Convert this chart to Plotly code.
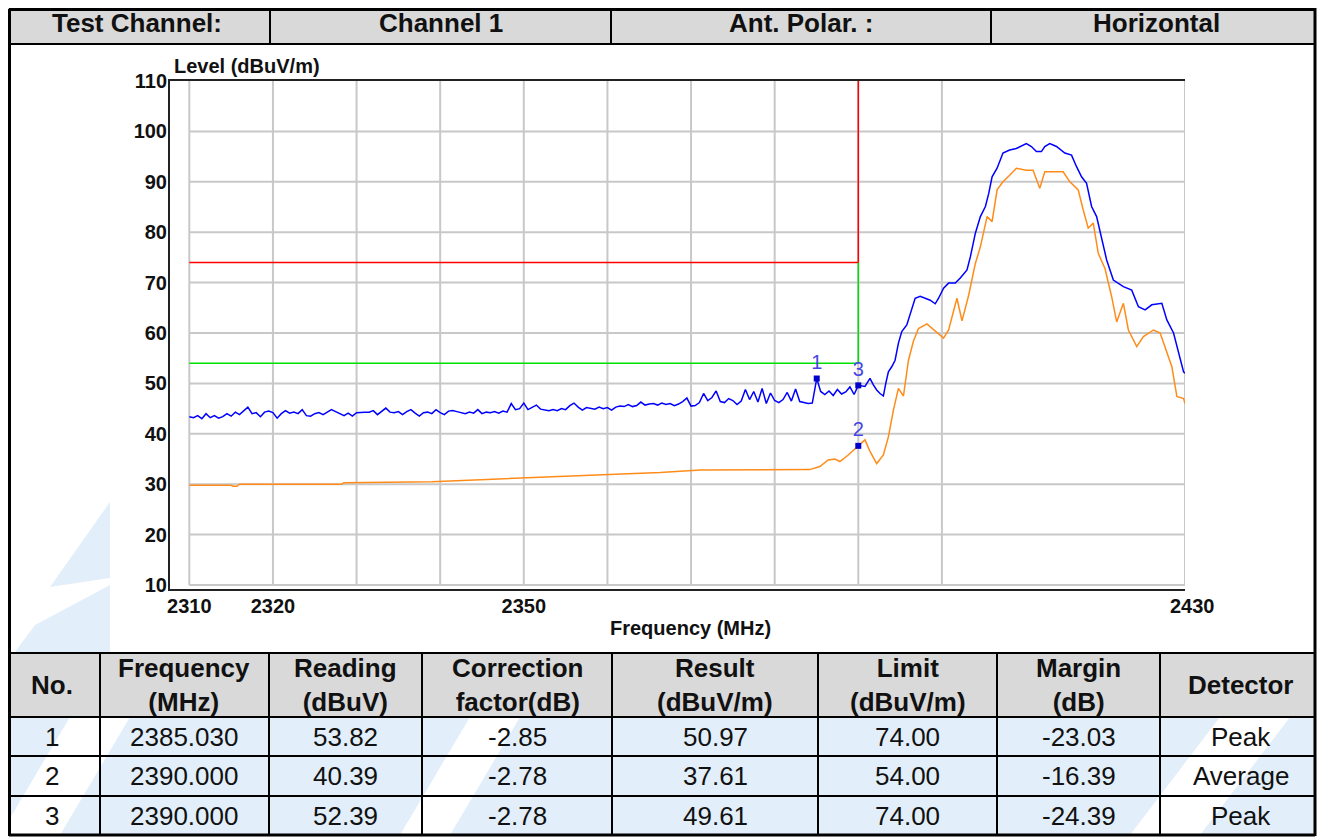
import plotly.graph_objects as go

W, H = 1325, 837
OFF = 8  # the page body margin pushes the figure 8px right and down
FW, FH = W - OFF, H - OFF

# report header
header_text = ["Test Channel:", "Channel 1", "Ant. Polar. :", "Horizontal"]

# peak trace (blue)
peak_mhz = [
    2310.0, 2310.5, 2311.0, 2311.5, 2312.0, 2312.5, 2313.0, 2313.5, 2314.0, 2314.5,
    2315.0, 2315.5, 2316.0, 2316.5, 2317.0, 2317.5, 2318.0, 2318.5, 2319.0, 2319.5,
    2320.0, 2320.5, 2321.0, 2321.5, 2322.0, 2322.5, 2323.0, 2323.5, 2324.0, 2324.5,
    2325.0, 2325.5, 2326.0, 2326.5, 2327.0, 2327.5, 2328.0, 2328.5, 2329.0, 2329.5,
    2330.0, 2330.5, 2331.0, 2331.5, 2332.0, 2332.5, 2333.0, 2333.5, 2334.0, 2334.5,
    2335.0, 2335.5, 2336.0, 2336.5, 2337.0, 2337.5, 2338.0, 2338.5, 2339.0, 2339.5,
    2340.0, 2340.5, 2341.0, 2341.5, 2342.0, 2342.5, 2343.0, 2343.5, 2344.0, 2344.5,
    2345.0, 2345.5, 2346.0, 2346.5, 2347.0, 2347.5, 2348.0, 2348.5, 2349.0, 2349.5,
    2350.0, 2350.5, 2351.0, 2351.5, 2352.0, 2352.5, 2353.0, 2353.5, 2354.0, 2354.5,
    2355.0, 2355.5, 2356.0, 2356.5, 2357.0, 2357.5, 2358.0, 2358.5, 2359.0, 2359.5,
    2360.0, 2360.5, 2361.0, 2361.5, 2362.0, 2362.5, 2363.0, 2363.5, 2364.0, 2364.5,
    2365.0, 2365.5, 2366.0, 2366.5, 2367.0, 2367.5, 2368.0, 2368.5, 2369.0, 2369.5,
    2370.0, 2370.5, 2371.0, 2371.5, 2372.0, 2372.5, 2373.0, 2373.5, 2374.0, 2374.5,
    2375.0, 2375.5, 2376.0, 2376.5, 2377.0, 2377.5, 2378.0, 2378.5, 2379.0, 2379.5,
    2380.0, 2380.5, 2381.0, 2381.5, 2382.0, 2382.5, 2383.0, 2383.5, 2384.0, 2384.5,
    2385.03, 2385.5, 2386.0, 2386.5, 2387.0, 2387.5, 2388.0, 2388.5, 2389.0, 2389.5,
    2390.0, 2390.8, 2391.4, 2391.8, 2392.2, 2392.6, 2393.0, 2393.3, 2393.6, 2394.0,
    2394.4, 2394.8, 2395.2, 2395.8, 2396.2, 2396.8, 2397.4, 2398.0, 2398.6, 2399.2,
    2399.6, 2400.2, 2400.8, 2401.6, 2402.2, 2403.0, 2403.4, 2404.0, 2404.6, 2405.2,
    2405.6, 2406.0, 2406.6, 2407.3, 2408.1, 2408.9, 2410.1, 2410.7, 2411.3, 2411.9,
    2412.3, 2412.9, 2413.7, 2414.7, 2415.5, 2416.1, 2416.7, 2417.3, 2417.9, 2418.5,
    2419.1, 2419.7, 2420.5, 2421.7, 2422.7, 2423.5, 2424.3, 2425.1, 2426.3, 2426.9,
    2427.7, 2428.3, 2428.9, 2429.07,
]
peak_dbuv = [
    43.4, 43.2, 43.6, 43.0, 44.0, 43.2, 43.6, 43.1, 43.4, 44.0,
    43.5, 44.3, 43.8, 44.6, 45.3, 44.0, 44.2, 43.4, 44.3, 44.5,
    44.2, 43.1, 44.0, 44.6, 44.1, 44.3, 44.0, 44.8, 43.6, 43.5,
    44.0, 44.2, 43.8, 44.3, 44.8, 44.4, 44.0, 43.6, 44.1, 43.5,
    44.2, 44.3, 44.3, 44.3, 44.6, 43.8, 44.4, 45.1, 44.3, 44.2,
    44.4, 43.8, 44.4, 44.8, 44.1, 43.5, 44.2, 44.3, 44.0, 44.8,
    44.2, 43.8, 44.5, 44.6, 44.4, 44.2, 44.0, 44.3, 44.1, 44.8,
    44.0, 44.3, 44.2, 44.4, 44.1, 44.5, 44.3, 46.0, 44.8, 45.0,
    46.1, 44.8, 45.3, 45.7, 44.9, 44.7, 44.6, 44.8, 44.6, 45.0,
    44.8, 45.6, 46.1, 45.3, 44.7, 45.2, 45.1, 44.9, 45.3, 45.0,
    45.2, 44.7, 45.3, 45.5, 45.4, 45.8, 45.4, 45.6, 46.3, 45.7,
    45.9, 46.0, 45.7, 46.1, 45.8, 46.0, 45.6, 45.9, 46.4, 47.1,
    45.5, 45.6, 46.2, 48.0, 46.6, 47.2, 48.5, 46.4, 46.2, 47.0,
    46.6, 45.8, 46.5, 48.8, 46.8, 48.4, 46.3, 49.0, 46.0, 48.1,
    46.6, 46.2, 46.8, 48.2, 46.5, 48.9, 46.4, 46.2, 46.0, 46.1,
    50.97, 48.4, 47.8, 48.5, 47.6, 48.8, 47.9, 48.3, 49.3, 47.8,
    49.61, 49.4, 51.0, 49.7, 48.7, 48.0, 47.5, 50.1, 52.3, 53.3,
    54.6, 58.0, 60.3, 61.6, 63.9, 66.9, 67.3, 66.9, 66.5, 65.8,
    66.9, 68.9, 69.9, 69.9, 70.9, 72.5, 75.1, 79.8, 83.1, 85.1,
    87.7, 91.0, 92.7, 95.7, 96.3, 96.6, 97.6, 97.0, 96.0, 96.0,
    97.0, 97.6, 97.0, 95.7, 95.3, 93.0, 91.0, 89.7, 85.1, 83.1,
    79.1, 74.5, 70.5, 69.2, 68.5, 65.2, 64.6, 65.6, 65.9, 62.6,
    60.0, 55.9, 52.3, 52.0,
]

# average trace (orange)
avg_mhz = [
    2310.0, 2315.0, 2315.2, 2315.7, 2316.0, 2328.2, 2328.5, 2339.0, 2346.3, 2349.5,
    2354.7, 2359.1, 2362.7, 2366.3, 2371.1, 2376.7, 2384.2, 2385.4, 2386.4, 2387.2,
    2387.8, 2388.8, 2390.0, 2390.8, 2391.4, 2392.2, 2393.0, 2393.6, 2394.2, 2394.8,
    2395.4, 2396.0, 2396.6, 2397.2, 2398.2, 2399.2, 2400.2, 2400.8, 2401.8, 2402.4,
    2403.2, 2404.0, 2404.6, 2405.4, 2406.0, 2406.6, 2407.3, 2408.1, 2408.9, 2410.1,
    2410.9, 2411.7, 2412.3, 2413.7, 2414.5, 2415.3, 2416.3, 2416.9, 2417.5, 2418.1,
    2418.7, 2419.5, 2420.3, 2420.9, 2421.7, 2422.3, 2423.3, 2424.1, 2425.3, 2426.1,
    2426.9, 2427.5, 2428.1, 2428.9, 2429.07,
]
avg_dbuv = [
    29.8, 29.8, 29.6, 29.6, 30.0, 30.0, 30.3, 30.5, 31.0, 31.2,
    31.5, 31.8, 32.0, 32.3, 32.8, 32.9, 32.9, 33.5, 34.8, 35.0,
    34.5, 35.8, 37.6, 38.8, 36.5, 34.1, 35.8, 39.4, 44.7, 49.0,
    47.5, 54.6, 58.4, 60.9, 61.8, 60.3, 59.0, 60.6, 66.9, 62.4,
    67.5, 73.8, 77.1, 83.1, 82.1, 88.4, 90.0, 91.3, 92.7, 92.3,
    92.3, 88.7, 92.0, 92.0, 92.0, 90.0, 88.4, 84.4, 80.8, 81.8,
    75.8, 72.8, 67.2, 62.2, 65.9, 60.6, 57.3, 59.3, 60.6, 60.0,
    55.9, 53.3, 47.4, 47.0, 46.0,
]

# limit lines
limit_mhz = [2310, 2390, 2390]
peak_limit = [74, 74, 110]
avg_limit = [54, 54, 74]

# marked points
marker_no = ["1", "2", "3"]
marker_mhz = [2385.03, 2390.0, 2390.0]
marker_level = [50.97, 37.61, 49.61]

grid_mhz = [2310, 2320, 2330, 2340, 2350, 2360, 2370, 2380, 2390, 2400]
grid_level = [10, 20, 30, 40, 50, 60, 70, 80, 90, 100]
x_end = 2429.07

# result table
col_head = ["No.", "Frequency<br>(MHz)", "Reading<br>(dBuV)", "Correction<br>factor(dB)",
            "Result<br>(dBuV/m)", "Limit<br>(dBuV/m)", "Margin<br>(dB)", "Detector"]
no_col = ["1", "2", "3"]
freq_col = ["2385.030", "2390.000", "2390.000"]
reading_col = ["53.82", "40.39", "52.39"]
corr_col = ["-2.85", "-2.78", "-2.78"]
result_col = ["50.97", "37.61", "49.61"]
limit_col = ["74.00", "54.00", "74.00"]
margin_col = ["-23.03", "-16.39", "-24.39"]
detector_col = ["Peak", "Average", "Peak"]

FONT = "Arial, Liberation Sans, sans-serif"
TXT = "#111111"


# page pixel -> paper fraction
def fx(x):
    return (x - OFF) / FW


def fy(y):
    return 1 - (y - OFF) / FH


shapes = []
annotations = []


def box(x0, y0, x1, y1, fill):
    shapes.append(dict(type="rect", xref="paper", yref="paper", x0=fx(x0), x1=fx(x1),
                       y0=fy(y1), y1=fy(y0), fillcolor=fill, line_width=0, layer="below"))


def rule(x0, y0, x1, y1, w=2):
    shapes.append(dict(type="line", xref="paper", yref="paper", x0=fx(x0), y0=fy(y0),
                       x1=fx(x1), y1=fy(y1), line=dict(color="black", width=w), layer="above"))


def poly(pts, fill):
    path = "M " + " L ".join(f"{fx(x):.5f},{fy(y):.5f}" for x, y in pts) + " Z"
    shapes.append(dict(type="path", xref="paper", yref="paper", path=path,
                       fillcolor=fill, line_width=0, layer="below"))


def label(x, y, text, size=26, bold=False, color=TXT, xanchor="center"):
    annotations.append(dict(x=fx(x), y=fy(y), xref="paper", yref="paper", text=text,
                            showarrow=False, xanchor=xanchor, yanchor="middle",
                            font=dict(family=FONT, size=size, color=color,
                                      weight="bold" if bold else "normal")))


WM = "#e2effa"
RIGHT = 1315  # right frame, kept inside the visible page

# watermark behind the table body
box(3, 717, RIGHT, 835, WM)
poly([(0, 835), (60, 835), (130, 717), (70, 717)], "white")
poly([(400, 835), (450, 835), (520, 717), (470, 717)], "white")
poly([(1130, 835), (1200, 835), (1290, 717), (1220, 717)], "white")
# watermark at the left of the chart
poly([(50, 587), (110, 502), (110, 578)], WM)
poly([(15, 652), (35, 625), (110, 585), (110, 652)], WM)

# header bands
box(3, 2, RIGHT, 44, "#d9d9d9")
box(3, 653, RIGHT, 717, "#d9d9d9")
box(110, 46, RIGHT - 2, 652, "white")

# header grid
rule(9, 9.5, RIGHT, 9.5, 3)
rule(9, 44, RIGHT, 44, 2)
for xc in [270, 611, 991]:
    rule(xc, 9, xc, 44, 2)
hx = [3, 270, 611, 991, 1321]
for i, t in enumerate(header_text):
    label((hx[i] + hx[i + 1]) / 2, 23, t, bold=True)

# table grid
cx = [3, 100, 269, 422, 612, 818, 997, 1160, 1321]
ry = [653, 717, 756, 796, 835]
for yv in ry[:-1]:
    rule(9, yv, RIGHT, yv, 2)
rule(9, 835, RIGHT, 835, 3)
for xv in cx[1:-1]:
    rule(xv, 653, xv, 835, 2)
rule(9.5, 9, 9.5, 836, 3)
rule(RIGHT, 8, RIGHT, 836, 3)

for i, t in enumerate(col_head):
    label((cx[i] + cx[i + 1]) / 2, 685, t, bold=True)
cols = [no_col, freq_col, reading_col, corr_col, result_col, limit_col, margin_col, detector_col]
for i, col in enumerate(cols):
    for r, t in enumerate(col):
        label((cx[i] + cx[i + 1]) / 2, (ry[r + 1] + ry[r + 2]) / 2, t)

# chart grid
for g in grid_level:
    shapes.append(dict(type="line", xref="x", yref="y", x0=2310, x1=x_end, y0=g, y1=g,
                       line=dict(color="#c8c8c8", width=2), layer="below"))
for g in grid_mhz + [x_end]:
    shapes.append(dict(type="line", xref="x", yref="y", x0=g, x1=g, y0=10, y1=110,
                       line=dict(color="#c8c8c8", width=2), layer="below"))

# chart texts
label(172, 66, "Level (dBuV/m)", size=20, bold=True, xanchor="left")
label(690, 628, "Frequency (MHz)", size=20, bold=True)
label(1192, 606, "2430", size=20, bold=True)

fig = go.Figure()
fig.add_trace(go.Scatter(x=limit_mhz, y=peak_limit, mode="lines",
                         line=dict(color="#ff0000", width=1.5)))
fig.add_trace(go.Scatter(x=limit_mhz, y=avg_limit, mode="lines",
                         line=dict(color="#00e000", width=1.5)))
fig.add_trace(go.Scatter(x=avg_mhz, y=avg_dbuv, mode="lines",
                         line=dict(color="#ff8c1a", width=1.5)))
fig.add_trace(go.Scatter(x=peak_mhz, y=peak_dbuv, mode="lines",
                         line=dict(color="#0000ff", width=1.5)))
fig.add_trace(go.Scatter(x=marker_mhz, y=marker_level, mode="markers+text", text=marker_no,
                         textposition="top center",
                         textfont=dict(family=FONT, size=20, color="#4646e6"),
                         marker=dict(symbol="square", size=6, color="#0000cc")))

fig.update_layout(
    width=FW, height=FH, margin=dict(l=0, r=0, t=0, b=0, pad=0, autoexpand=False),
    paper_bgcolor="white", plot_bgcolor="white", showlegend=False,
    shapes=shapes, annotations=annotations,
    font=dict(family=FONT, color=TXT),
)
fig.update_xaxes(domain=[fx(170), fx(1185)], range=[2307.69, x_end], automargin=False,
                 tickvals=[2310, 2320, 2350], ticktext=["2310", "2320", "2350"],
                 tickfont=dict(size=20, weight="bold", color=TXT), ticks="",
                 ticklabelstandoff=-2, showgrid=False, zeroline=False,
                 showline=True, mirror=True, linecolor="#222222", linewidth=2)
fig.update_yaxes(domain=[fy(589), fy(81)], range=[9.21, 110], automargin=False,
                 tickvals=[10, 20, 30, 40, 50, 60, 70, 80, 90, 100, 110],
                 tickfont=dict(size=20, weight="bold", color=TXT), ticks="",
                 ticklabelstandoff=-3, showgrid=False, zeroline=False,
                 showline=True, linecolor="#222222", linewidth=2)

fig.write_html("out.html")
